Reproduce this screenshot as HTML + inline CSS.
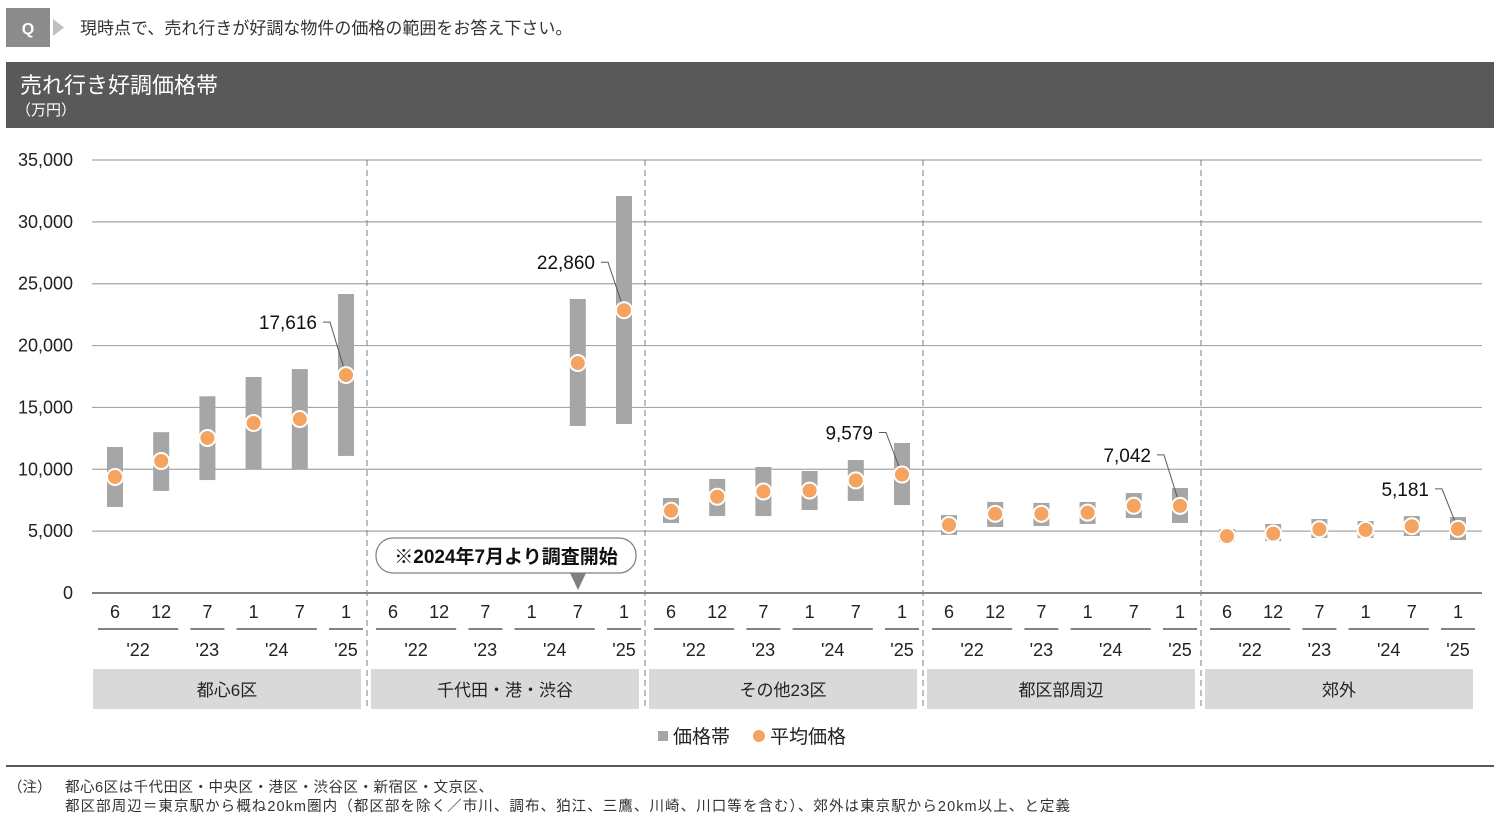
<!DOCTYPE html>
<html><head><meta charset="utf-8"><style>
body{margin:0;width:1500px;height:825px;background:#fff;overflow:hidden;font-family:"Liberation Sans","Noto Sans CJK JP",sans-serif;}
svg text{font-family:"Liberation Sans","Noto Sans CJK JP",sans-serif;}
</style></head><body>
<svg id="c" width="1500" height="825">
<g>
<rect x="6" y="8" width="44" height="39" fill="#8c8c8c"/>
<text x="28" y="34" font-size="16" font-weight="bold" fill="#fff" text-anchor="middle">Q</text>
<polygon points="53,19 64,27.5 53,36" fill="#bfbfbf"/>
<text x="80" y="34" font-size="17" fill="#333">現時点で、売れ行きが好調な物件の価格の範囲をお答え下さい。</text>
</g>
<g>
<rect x="6" y="62" width="1488" height="66" fill="#595959"/>
<text x="20" y="93" font-size="22" fill="#fff">売れ行き好調価格帯</text>
<text x="16" y="115" font-size="15" fill="#fff">（万円）</text>
</g>
<g id="plot"></g>
<line x1="6" y1="766" x2="1494" y2="766" stroke="#595959" stroke-width="2"/>
<text x="8" y="792" font-size="14.5" fill="#333">（注）</text>
<text x="65" y="792" font-size="14.5" fill="#333" textLength="428">都心6区は千代田区・中央区・港区・渋谷区・新宿区・文京区、</text>
<text x="65" y="811" font-size="14.5" fill="#333" textLength="1005">都区部周辺＝東京駅から概ね20km圏内（都区部を除く／市川、調布、狛江、三鷹、川崎、川口等を含む）、郊外は東京駅から20km以上、と定義</text>
</svg>
<script>
const groups=["都心6区","千代田・港・渋谷","その他23区","都区部周辺","郊外"];
const months=["6","12","7","1","7","1"];
const yTicks=[0,5000,10000,15000,20000,25000,30000,35000];
const bandLow=[[6950,8250,9130,10020,10020,11080],[null,null,null,null,13500,13660],[5660,6220,6220,6710,7440,7110],[4690,5340,5420,5580,6060,5660],[4120,4200,4450,4450,4610,4280]];
const bandHigh=[[11800,13000,15900,17460,18100,24170],[null,null,null,null,23770,32090],[7680,9220,10190,9860,10750,12130],[6300,7360,7280,7360,8080,8490],[5170,5580,5980,5820,6220,6140]];
const avgPrice=[[9380,10670,12530,13740,14060,17616],[null,null,null,null,18590,22860],[6650,7780,8200,8280,9100,9579],[5500,6400,6400,6500,7050,7042],[4600,4800,5150,5100,5400,5181]];
const callouts=[["17,616",0,5],["22,860",1,5],["9,579",2,5],["7,042",3,5],["5,181",4,5]];
const calloutRise=[53,48,42,51,40];
const NS="http://www.w3.org/2000/svg",P=document.getElementById('plot');
function y(v){return 593-v/35000*433;}
function x(g,i){return 115+g*278+i*46.2;}
function mk(t,a,p){const e=document.createElementNS(NS,t);for(const k in a)e.setAttribute(k,a[k]);(p||P).appendChild(e);return e;}
yTicks.forEach(v=>{
 const l=mk('line',{x1:92,x2:1482,y1:y(v),y2:y(v),stroke:v?'#a6a6a6':'#595959','stroke-width':v?1.2:1.5});
 
 
 const t=mk('text',{x:73,y:y(v)+6,'font-size':18,'text-anchor':'end',fill:'#222'});t.textContent=v.toLocaleString('en-US');
 
 
});
[1,2,3,4].forEach(k=>{const l=mk('line',{x1:89+k*278,x2:89+k*278,y1:160,y2:710,stroke:'#7f7f7f','stroke-dasharray':'6,4'});
 
 });
const yrs=[["'22",0,1],["'23",2,2],["'24",3,4],["'25",5,5]];
groups.forEach((g,gi)=>{
 months.forEach((m,i)=>{const t=mk('text',{x:x(gi,i),y:618,'font-size':18,'text-anchor':'middle',fill:'#222'});t.textContent=m;
  
  });
 yrs.forEach(([lab,a,b])=>{
  const x1=x(gi,a)-17,x2=x(gi,b)+17;
  const l=mk('line',{x1:x1,x2:x2,y1:629,y2:629,stroke:'#595959','stroke-width':1.5});
  
  
  const t=mk('text',{x:(x1+x2)/2,y:656,'font-size':18,'text-anchor':'middle',fill:'#222'});t.textContent=lab;
  
  
 });
 const r=mk('rect',{x:93+gi*278,y:669,width:268,height:40,fill:'#d9d9d9'});
 
 
 const t=mk('text',{x:227+gi*278,y:696,'font-size':17,'text-anchor':'middle',fill:'#222'});t.textContent=g;
 
 
 months.forEach((m,i)=>{
  if(bandLow[gi][i]==null)return;
  const b=mk('rect',{x:x(gi,i)-8,y:y(bandHigh[gi][i]),width:16,height:y(bandLow[gi][i])-y(bandHigh[gi][i]),fill:'#a6a6a6'});
  
  
 });
});
callouts.forEach(([lab,gi,i],k)=>{
 const px=x(gi,i),py=y(avgPrice[gi][i]),ty=py-calloutRise[k];
 const l=mk('polyline',{points:`${px-23},${ty} ${px-16},${ty} ${px},${py}`,fill:'none',stroke:'#595959','stroke-width':1});
 
 
 const t=mk('text',{x:px-29,y:ty+7,'font-size':19,'text-anchor':'end',fill:'#111'});t.textContent=lab;
 
 
});
groups.forEach((g,gi)=>months.forEach((m,i)=>{
 if(avgPrice[gi][i]==null)return;
 const c=mk('circle',{cx:x(gi,i),cy:y(avgPrice[gi][i]),r:8,fill:'#f4a460',stroke:'#fff','stroke-width':2});
 
 
}));
const note=mk('g',{});


mk('rect',{x:376,y:538,width:260,height:35,rx:17,fill:'#fff',stroke:'#7f7f7f','stroke-width':1.2},note);
mk('polygon',{points:'570,573 586,573 578,590',fill:'#7f7f7f'},note);
const nt=mk('text',{x:506,y:563,'font-size':19,'font-weight':'bold','text-anchor':'middle',fill:'#111'},note);nt.textContent='※2024年7月より調査開始';
const lg=mk('g',{});


mk('rect',{x:658,y:731,width:10,height:10,fill:'#a6a6a6'},lg);
const l1=mk('text',{x:673,y:743,'font-size':19,fill:'#222'},lg);l1.textContent='価格帯';
mk('circle',{cx:759,cy:736,r:6,fill:'#f4a460'},lg);
const l2=mk('text',{x:770,y:743,'font-size':19,fill:'#222'},lg);l2.textContent='平均価格';
</script>
</body></html>
